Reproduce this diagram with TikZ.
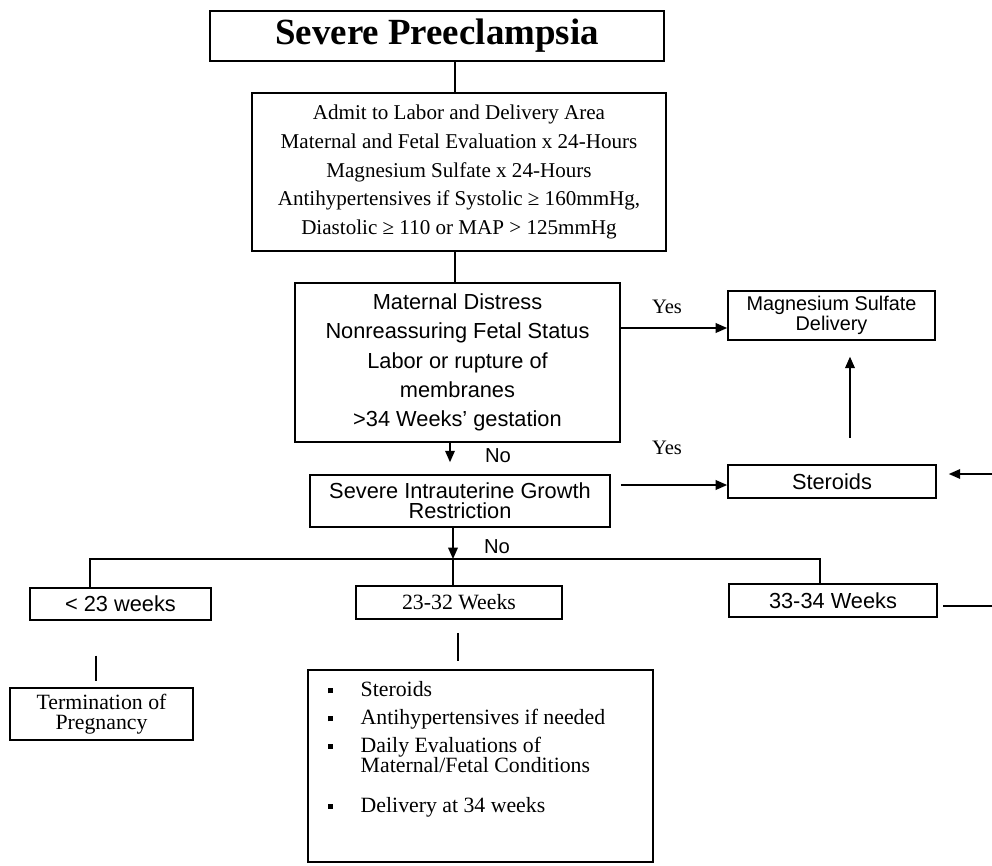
\documentclass[tikz,border=0pt]{standalone}
\usepackage{fontspec}
\setmainfont{Liberation Serif}
\setsansfont{Liberation Sans}
\usepackage{tikz}
\usetikzlibrary{arrows.meta}
\newcommand{\blt}{\makebox[18.7pt][l]{\rule[2pt]{2.8pt}{2.8pt}}}
\begin{document}
\begin{tikzpicture}[x=0.02cm,y=-0.02cm,line width=0.8pt,>={Triangle[length=6.5pt,width=5.5pt]},
  box/.style={draw,line width=1pt,inner sep=0pt,align=center},
  rm/.style={font=\fontsize{12.4}{11.3}\selectfont},
  sf/.style={font=\sffamily\fontsize{12.4}{11.3}\selectfont}]
\useasboundingbox (0,0) rectangle (992,866);
\node[box,line width=1.6pt,minimum width=9.08cm,minimum height=1cm,font=\fontsize{21}{24}\selectfont\bfseries] (title) at (437,36) {Severe Preeclampsia};
\node[box,minimum width=8.28cm,minimum height=3.16cm,font=\fontsize{12}{16.4}\selectfont] (admit) at (459,172) {Admit to Labor and Delivery Area\\Maternal and Fetal Evaluation x 24-Hours\\Magnesium Sulfate x 24-Hours\\Antihypertensives if Systolic ≥ 160mmHg,\\Diastolic ≥ 110 or MAP > 125mmHg};
\node[box,minimum width=6.5cm,minimum height=3.18cm,font=\sffamily\fontsize{12.4}{16.6}\selectfont] (distress) at (457.5,362.5) {Maternal Distress\\Nonreassuring Fetal Status\\Labor or rupture of\\membranes\\>34 Weeks' gestation};
\node[box,sf,minimum width=6cm,minimum height=1.04cm] (iugr) at (460,501) {Severe Intrauterine Growth\\Restriction};
\node[box,minimum width=4.14cm,minimum height=0.98cm,font=\sffamily\fontsize{11.3}{10.2}\selectfont] (magdel) at (831.5,315.5) {Magnesium Sulfate\\Delivery};
\node[box,sf,minimum width=4.16cm,minimum height=0.66cm] (steroids) at (832,481.5) {Steroids};
\node[box,sf,minimum width=3.62cm,minimum height=0.64cm] (lt23) at (120.5,604) {< 23 weeks};
\node[box,rm,minimum width=4.12cm,minimum height=0.66cm] (w2332) at (459,602.5) {23-32 Weeks};
\node[box,sf,minimum width=4.16cm,minimum height=0.66cm] (w3334) at (833,600.5) {33-34 Weeks};
\node[box,rm,minimum width=3.66cm,minimum height=1.04cm] (termin) at (101.5,714) {Termination of\\Pregnancy};
\node[box,rm,inner xsep=11.3pt,align=left] (plan) at (480.5,766) {\parbox[c][3.84cm][t]{\dimexpr6.9cm-22.6pt\relax}{\fontsize{12.4}{11.4}\selectfont
\rule{0pt}{15.3pt}\blt Steroids\\[4.5pt]
\blt Antihypertensives if needed\\[3.3pt]
\blt Daily Evaluations of\\
\hphantom{\blt}Maternal/Fetal Conditions\\[11.3pt]
\blt Delivery at 34 weeks}};
\node[font=\fontsize{11.7}{13}\selectfont] (yes1) at (667,307) {Yes};
\node[font=\fontsize{11.7}{13}\selectfont] (yes2) at (667,448) {Yes};
\node[font=\sffamily\fontsize{11.5}{13}\selectfont] (no1) at (498,456) {No};
\node[font=\sffamily\fontsize{11.5}{13}\selectfont] (no2) at (497,547) {No};
\coordinate (spine) at (455,0);
\coordinate (spine2) at (450,0);
\coordinate (fork) at (453,559);
\coordinate (forkl) at (90,559);
\coordinate (forkr) at (820,559);
\coordinate (yesrow) at (0,328);
\coordinate (yesrow2) at (0,485);
\coordinate (upcol) at (850,0);
\coordinate (edgetop) at (992,474);
\coordinate (edgebot) at (992,606);
\coordinate (lcol) at (96,0);
\coordinate (mcol) at (458,0);
\draw (title.south -| spine) -- (admit.north -| spine);
\draw (admit.south -| spine) -- (distress.north -| spine);
\draw[->,shorten >=6.8pt] (distress.south -| spine2) -- (iugr.north -| spine2);
\draw[->] (iugr.south -| fork) -- (fork);
\draw (lt23.north -| forkl) -- (forkl) -- (forkr) -- (w3334.north -| forkr);
\draw (fork) -- (w2332.north -| fork);
\draw[->] (distress.east |- yesrow) -- (magdel.west |- yesrow);
\draw[->,shorten <=5.7pt] (iugr.east |- yesrow2) -- (steroids.west |- yesrow2);
\draw[->,shorten <=15pt,shorten >=9pt] (steroids.north -| upcol) -- (magdel.south -| upcol);
\draw[->,shorten >=6.8pt] (edgetop) -- (steroids.east |- edgetop);
\draw[shorten <=3pt] (w3334.east |- edgebot) -- (edgebot);
\draw[shorten <=19.8pt,shorten >=3.4pt] (lt23.south -| lcol) -- (termin.north -| lcol);
\draw[shorten <=7.4pt,shorten >=4.5pt] (w2332.south -| mcol) -- (plan.north -| mcol);
\end{tikzpicture}
\end{document}
